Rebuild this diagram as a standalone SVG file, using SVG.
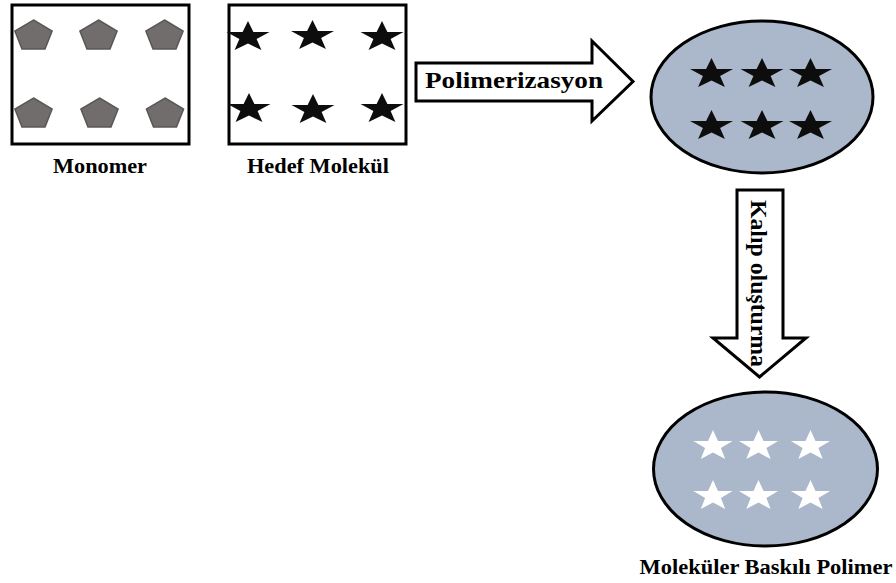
<svg xmlns="http://www.w3.org/2000/svg" xmlns:xlink="http://www.w3.org/1999/xlink" width="896" height="583" viewBox="0 0 896 583">
<style>
.box{fill:#fff;stroke:#000;stroke-width:3}
.pent{fill:#716d6c;stroke:#5a5757;stroke-width:1.5}
.star{fill:#0d0d0d}
.wstar{fill:#fff}
.ell{fill:#abb7ca;stroke:#000;stroke-width:3}
.arrow{fill:#fff;stroke:#000;stroke-width:3;stroke-linejoin:miter}
.lbl{font-family:"Liberation Serif","Times New Roman",Times,serif;font-weight:bold;font-size:22px;fill:#000}
.big{font-size:23px}
</style>
<defs>
<polygon id="pent" class="pent" points="0,-16 18.6,-4.9 11.5,12.9 -11.5,12.9 -18.6,-4.9"/>
<polygon id="star" points="0,-16 5.4,-4.94 21.5,-4.94 8.6,2.1 13.4,13 0,6.6 -13.4,13 -8.6,2.1 -21.5,-4.94 -5.4,-4.94"/>
<polygon id="wstar" points="0,-16 5,-4.94 19.6,-4.94 7.9,2.1 12.2,13 0,6.6 -12.2,13 -7.9,2.1 -19.6,-4.94 -5,-4.94"/>
</defs>
<g id="monomer">
<rect class="box" x="12" y="5" width="177" height="139"/>
<use href="#pent" x="33.5" y="36"/>
<use href="#pent" x="98.5" y="36"/>
<use href="#pent" x="164.5" y="36"/>
<use href="#pent" x="33.5" y="114"/>
<use href="#pent" x="99.5" y="114"/>
<use href="#pent" x="165" y="114"/>
<text class="lbl" x="100" y="173" text-anchor="middle" textLength="94" lengthAdjust="spacingAndGlyphs">Monomer</text>
</g>
<g id="hedef">
<rect class="box" x="229" y="5" width="177" height="139"/>
<g class="star">
<use href="#star" x="248" y="37"/>
<use href="#star" x="312.5" y="36"/>
<use href="#star" x="382" y="37"/>
<use href="#star" x="249" y="109"/>
<use href="#star" x="313" y="110"/>
<use href="#star" x="382" y="109"/>
</g>
<text class="lbl" x="318" y="173" text-anchor="middle" textLength="142" lengthAdjust="spacingAndGlyphs">Hedef Molekül</text>
</g>
<g id="polimer">
<ellipse class="ell" cx="762" cy="97" rx="111" ry="76"/>
<g class="star">
<use href="#star" x="711.5" y="74"/>
<use href="#star" x="762" y="74"/>
<use href="#star" x="810.5" y="74"/>
<use href="#star" x="711.5" y="126"/>
<use href="#star" x="762" y="126"/>
<use href="#star" x="810.5" y="126"/>
</g>
</g>
<g id="mip">
<ellipse class="ell" cx="765.5" cy="469" rx="112" ry="77"/>
<g class="wstar">
<use href="#wstar" x="713" y="446"/>
<use href="#wstar" x="758.5" y="446"/>
<use href="#wstar" x="810.5" y="446"/>
<use href="#wstar" x="713" y="496"/>
<use href="#wstar" x="758.5" y="496"/>
<use href="#wstar" x="810.5" y="496"/>
</g>
<text class="lbl" x="766" y="574" text-anchor="middle" textLength="253" lengthAdjust="spacingAndGlyphs">Moleküler Baskılı Polimer</text>
</g>
<g id="connectors">
<g id="arrow-polimerizasyon">
<polygon class="arrow" points="416,63 592,63 592,41 633,81.5 592,121 592,101 416,101"/>
<text class="lbl big" x="425" y="88" textLength="178" lengthAdjust="spacingAndGlyphs">Polimerizasyon</text>
</g>
<g id="arrow-kalip">
<polygon class="arrow" points="737,190 783,190 783,338 806,338 759.5,377 713,338 737,338"/>
<text class="lbl big" transform="translate(751,200) rotate(90)" x="0" y="0" textLength="167" lengthAdjust="spacingAndGlyphs">Kalıp oluşturma</text>
</g>
</g>
</svg>
